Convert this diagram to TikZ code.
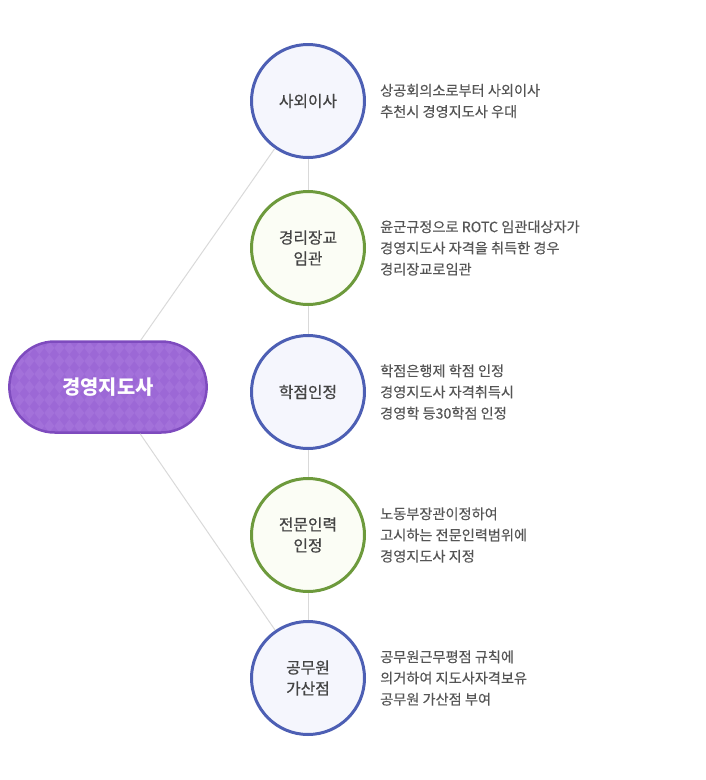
\documentclass[tikz,border=0pt]{standalone}
\usepackage{fontspec}
\setmainfont{Noto Sans CJK KR}
\newfontfamily\ringfont[FakeBold=0.6]{Noto Sans CJK KR}
\newfontfamily\descfont[FakeBold=0.25]{Noto Sans CJK KR}
\usetikzlibrary{positioning,shapes.misc}
\definecolor{blueline}{HTML}{4D5FB4}
\definecolor{bluefill}{HTML}{F5F6FD}
\definecolor{greenline}{HTML}{6D9A3C}
\definecolor{greenfill}{HTML}{FBFDF5}
\definecolor{pillfill}{HTML}{9C68D6}
\definecolor{pillline}{HTML}{7E4BBE}
\definecolor{pillshade}{HTML}{A371DA}
\definecolor{ctext}{HTML}{444444}
\definecolor{dtext}{HTML}{555555}
\definecolor{linkgray}{HTML}{D9D9D9}

\begin{document}
\begin{tikzpicture}[
  x=1pt,y=-1pt,
  ring/.style={circle,line width=3pt,minimum size=113pt,inner sep=0pt,align=center,text=ctext,font=\fontsize{15.8}{21}\ringfont},
  bluering/.style={ring,draw=blueline,fill=bluefill},
  greenring/.style={ring,draw=greenline,fill=greenfill},
  desc/.style={align=left,text=dtext,font=\fontsize{14.2}{21.2}\descfont,inner sep=0pt},
  link/.style={draw=linkgray,line width=1pt},
  pill/.style={rounded rectangle,line width=2.5pt,draw=pillline,fill=pillfill,minimum width=204pt,minimum height=91pt,text=white,font=\fontsize{19.8}{22}\selectfont\bfseries}
]
\useasboundingbox (0,0) rectangle (705,780);

\node[pill,path picture={
  \foreach \i in {0,...,22}
    \foreach \j in {0,...,8}
      \fill[pillshade] (path picture bounding box.north west) ++(10*\i,13*\j) -- ++(5,6.5) -- ++(-5,6.5) -- ++(-5,-6.5) -- cycle;
}] (main) at (108,387) {경영지도사};

\node[bluering]  (c1) at (308,101) {사외이사};
\node[greenring] (c2) at (308,248) {경리장교\\임관};
\node[bluering]  (c3) at (308,392) {학점인정};
\node[greenring] (c4) at (308,535) {전문인력\\인정};
\node[bluering]  (c5) at (308,678) {공무원\\가산점};

\node[desc,right=14pt of c1] (d1) {상공회의소로부터 사외이사\\추천시 경영지도사 우대};
\node[desc,right=14pt of c2] (d2) {윤군규정으로 ROTC 임관대상자가\\경영지도사 자격을 취득한 경우\\경리장교로임관};
\node[desc,right=14pt of c3] (d3) {학점은행제 학점 인정\\경영지도사 자격취득시\\경영학 등30학점 인정};
\node[desc,right=14pt of c4] (d4) {노동부장관이정하여\\고시하는 전문인력범위에\\경영지도사 지정};
\node[desc,right=14pt of c5] (d5) {공무원근무평점 규칙에\\의거하여 지도사자격보유\\공무원 가산점 부여};

% connectors
\draw[link] (main) -- (c1);
\draw[link] (main) -- (c5);
\foreach \a/\b in {c1/c2,c2/c3,c3/c4,c4/c5}
  \draw[link] (\a) -- (\b);
\end{tikzpicture}
\end{document}
